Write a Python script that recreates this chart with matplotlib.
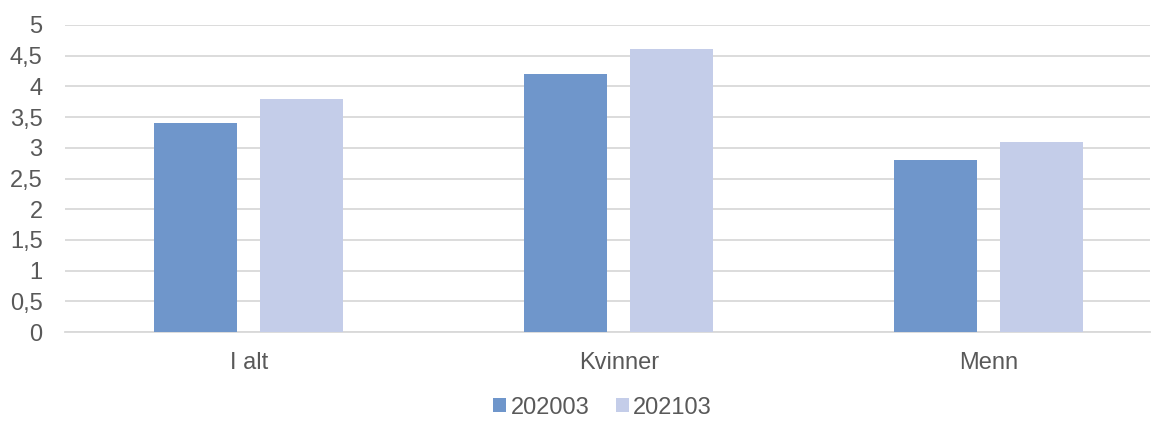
import numpy as np
import matplotlib.pyplot as plt

plt.rcParams['font.family'] = ['Liberation Sans', 'DejaVu Sans']

kategorier = ['I alt', 'Kvinner', 'Menn']
serie_navn = ['202003', '202103']
verdier_2020 = [3.4, 4.2, 2.8]
verdier_2021 = [3.8, 4.6, 3.1]
y_ticks = [0, 0.5, 1, 1.5, 2, 2.5, 3, 3.5, 4, 4.5, 5]
y_labels = ['0', '0,5', '1', '1,5', '2', '2,5', '3', '3,5', '4', '4,5', '5']

farger = ['#6F96CB', '#C4CDE9']
tekst = '#595959'

fig = plt.figure(figsize=(11.59, 4.21), dpi=100)
ax = fig.add_axes([0.056, 0.211, 0.936, 0.730])

x = np.arange(len(kategorier))
b = 0.224
gap = 0.062
ax.bar(x - (b + gap) / 2, verdier_2020, b, color=farger[0], label=serie_navn[0], zorder=3)
ax.bar(x + (b + gap) / 2, verdier_2021, b, color=farger[1], label=serie_navn[1], zorder=3)

ax.set_xlim(-0.497, 2.435)
ax.set_ylim(0, 5)
ax.set_yticks(y_ticks)
ax.set_yticklabels(y_labels)
ax.set_xticks(x)
ax.set_xticklabels(kategorier)
ax.tick_params(axis='both', length=0, labelsize=17, colors=tekst)
ax.tick_params(axis='y', pad=16)
ax.tick_params(axis='x', pad=14)
ax.grid(axis='y', color='#D9D9D9', linewidth=1.3, zorder=0)
for s in ['top', 'right', 'left']:
    ax.spines[s].set_visible(False)
ax.spines['bottom'].set_color('#D9D9D9')
ax.spines['bottom'].set_linewidth(1.3)

leg = fig.legend(loc='lower center', bbox_to_anchor=(0.52, -0.045), ncol=2, frameon=False,
                 fontsize=17, handlelength=0.55, handleheight=0.55, handletextpad=0.2,
                 columnspacing=1.1)
for t in leg.get_texts():
    t.set_color(tekst)

fig.savefig('out.png', dpi=100)
